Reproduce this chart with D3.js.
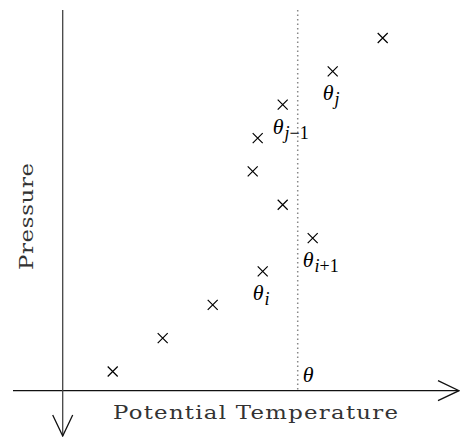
<!DOCTYPE html>
<html>
<head>
<meta charset="utf-8">
<script src="https://cdn.jsdelivr.net/npm/d3@7"></script>
<style>
  body { margin: 0; background: #fff; }
  svg { display: block; }
</style>
</head>
<body>
<script>
// sounding points, bottom to top
var theta = [1.0, 2.0, 3.0, 4.0, 5.0, 4.4, 3.8, 3.9, 4.4, 5.4, 6.4];
var pressure = [1000, 950, 900, 850, 800, 750, 700, 650, 600, 550, 500];
// labelled points: index into the arrays above
var labelIdx = [3, 4, 8, 9];
var labelBase = ["\u03b8", "\u03b8", "\u03b8", "\u03b8"];
var labelSub = ["i", "i+1", "j\u22121", "j"];
var thetaTarget = 4.7; // the dotted theta line
var xTitle = "Potential Temperature";
var yTitle = "Pressure";

var width = 460, height = 437;

var svg = d3.select("body").append("svg")
	.attr("width", width)
	.attr("height", height);

var x = d3.scaleLinear() // theta units to px
	.domain([0, 8])
	.range([62.7, 462.7]);
var y = d3.scaleLinear() // pressure, increasing downward
	.domain([1000, 500])
	.range([371.5, 38]);

var x0 = x(0), yAxisY = 390.7;

// horizontal axis with open arrow head
svg.append("line")
	.attr("x1", 13).attr("x2", 459)
	.attr("y1", yAxisY).attr("y2", yAxisY)
	.attr("stroke", "#111").attr("stroke-width", 1.3);
svg.append("path")
	.attr("d", "M438," + (yAxisY - 10) + "L459," + yAxisY + "L438," + (yAxisY + 10))
	.attr("fill", "none").attr("stroke", "#111").attr("stroke-width", 1.3);

// vertical axis pointing down (pressure increases)
svg.append("line")
	.attr("x1", x0).attr("x2", x0)
	.attr("y1", 10).attr("y2", 436)
	.attr("stroke", "#444").attr("stroke-width", 1.3);
svg.append("path")
	.attr("d", "M" + (x0 - 10) + ",415L" + x0 + ",436L" + (x0 + 10) + ",415")
	.attr("fill", "none").attr("stroke", "#111").attr("stroke-width", 1.3);

// dotted theta line
svg.append("line")
	.attr("x1", x(thetaTarget)).attr("x2", x(thetaTarget))
	.attr("y1", 10).attr("y2", yAxisY)
	.attr("stroke", "#888").attr("stroke-width", 1.5)
	.attr("stroke-dasharray", "1.5,3");

svg.append("text")
	.attr("x", x(thetaTarget) + 5)
	.attr("y", 382)
	.attr("font-family", "Liberation Serif")
	.attr("font-style", "italic")
	.attr("font-size", 22)
	.text("\u03b8");

// x markers
var pts = d3.range(theta.length).map(function(i) {
	return { x: x(theta[i]), y: y(pressure[i]) };
});
svg.append("g").selectAll("path")
	.data(pts)
	.enter().append("path")
	.attr("d", function(d) {
		var r = 5;
		return "M" + (d.x - r) + "," + (d.y - r) + "L" + (d.x + r) + "," + (d.y + r) +
			"M" + (d.x - r) + "," + (d.y + r) + "L" + (d.x + r) + "," + (d.y - r);
	})
	.attr("stroke", "#000").attr("stroke-width", 1.2).attr("fill", "none");

// point labels: theta with subscript, letters italic, digits/signs upright
var lab = svg.append("g").selectAll("text")
	.data(labelIdx)
	.enter().append("text")
	.attr("x", function(d) { return pts[d].x - 10; })
	.attr("y", function(d) { return pts[d].y + 29; })
	.attr("font-family", "Liberation Serif")
	.attr("font-size", 22);
lab.append("tspan")
	.attr("font-style", "italic")
	.text(function(d, i) { return labelBase[i]; });
lab.each(function(d, i) {
	var t = d3.select(this);
	labelSub[i].split("").forEach(function(c, k) {
		t.append("tspan")
			.attr("dy", k === 0 ? 5 : null)
			.attr("dx", k === 0 ? 1 : null)
			.attr("font-size", 18)
			.attr("font-style", /[a-z]/.test(c) ? "italic" : "normal")
			.text(c);
	});
});

// axis titles (wide serif: stretch glyphs horizontally)
svg.append("text")
	.attr("transform", "translate(113,419) scale(1.2,1)")
	.attr("font-family", "DejaVu Serif")
	.attr("font-size", 19)
	.attr("fill", "#333")
	.attr("textLength", 285 / 1.2)
	.attr("lengthAdjust", "spacing")
	.text(xTitle);

svg.append("text")
	.attr("transform", "translate(33,270) rotate(-90) scale(1.2,1)")
	.attr("font-family", "DejaVu Serif")
	.attr("font-size", 19)
	.attr("fill", "#333")
	.attr("textLength", 107 / 1.2)
	.attr("lengthAdjust", "spacing")
	.text(yTitle);
</script>
</body>
</html>
